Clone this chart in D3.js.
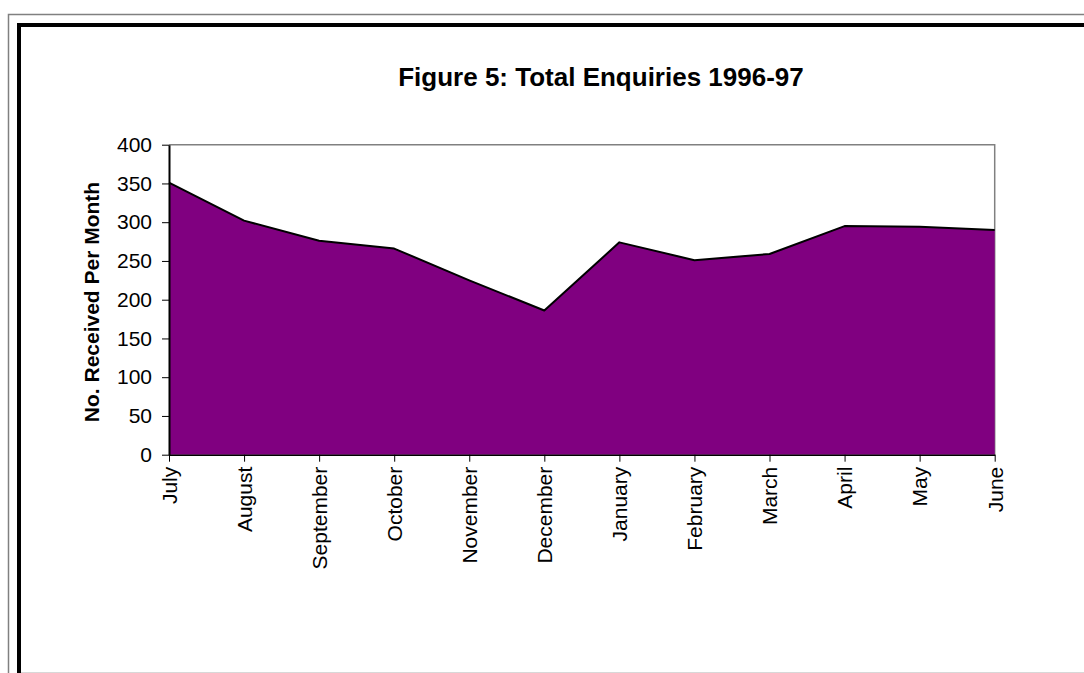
<!DOCTYPE html>
<html><head><meta charset="utf-8">
<script src="https://cdn.jsdelivr.net/npm/d3@7"></script>
<style>body{margin:0;background:#fff}svg{display:block}</style>
</head><body>
<svg id="c" width="1084" height="673"></svg>
<script>
const months = ["July","August","September","October","November","December","January","February","March","April","May","June"];
const enquiries = [351, 302, 276, 266, 225, 186, 274, 251, 259, 295, 294, 290];
const yTicks = [0,50,100,150,200,250,300,350,400];
const titleText = "Figure 5: Total Enquiries 1996-97";
const yLabel = "No. Received Per Month";

const svg = d3.select("#c");
const font = "'Liberation Sans', Arial, sans-serif";

// frame
svg.append("rect").attr("x",8.5).attr("y",14.5).attr("width",1200).attr("height",800)
  .attr("fill","none").attr("stroke","#808080").attr("stroke-width",1.5);
svg.append("rect").attr("x",19).attr("y",25).attr("width",1200).attr("height",800)
  .attr("fill","#fff").attr("stroke","#000").attr("stroke-width",4);
svg.append("line").attr("x1",21).attr("x2",1084).attr("y1",672.5).attr("y2",672.5)
  .attr("stroke","#d8d8d8").attr("stroke-width",1);

const L=169, R=994.7, T=144.7, B=454.7;
const x = d3.scalePoint().domain(months).range([L,R]);
const y = d3.scaleLinear().domain([0,400]).range([B,T]);

// plot border (top/right gray)
svg.append("path").attr("d",`M${L},${T}H${R}V${B}`).attr("fill","none")
  .attr("stroke","#808080").attr("stroke-width",1.5);

const area = d3.area().x((d,i)=>x(months[i])).y0(y(0)).y1(d=>y(d));
const line = d3.line().x((d,i)=>x(months[i])).y(d=>y(d));
svg.append("path").datum(enquiries).attr("d",area).attr("fill","#800080");
svg.append("path").datum(enquiries).attr("d",line).attr("fill","none")
  .attr("stroke","#000").attr("stroke-width",2).attr("stroke-linejoin","round");

// y axis
const ya = svg.append("g").attr("transform",`translate(${L},0)`)
  .call(d3.axisLeft(y).tickValues(yTicks).tickSize(7).tickPadding(10).tickSizeOuter(0));
ya.select(".domain").attr("stroke","#000").attr("stroke-width",2);
ya.selectAll(".tick line").attr("stroke","#000").attr("stroke-width",1);
ya.selectAll("text").attr("font-family",font).attr("font-size",21).attr("fill","#000");

// x axis
const xa = svg.append("g").attr("transform",`translate(0,${B})`)
  .call(d3.axisBottom(x).tickSize(7).tickSizeOuter(0));
xa.select(".domain").attr("stroke","#000").attr("stroke-width",1.5);
xa.selectAll(".tick line").attr("stroke","#000").attr("stroke-width",1);
xa.selectAll("text").attr("font-family",font).attr("font-size",21).attr("fill","#000")
  .attr("transform","rotate(-90)").attr("text-anchor","end")
  .attr("x",-12).attr("y",0).attr("dy","0.35em");

// title
svg.append("text").attr("x",601).attr("y",86).attr("text-anchor","middle")
  .attr("font-family",font).attr("font-weight","bold").attr("font-size",26).text(titleText);

// y label
svg.append("text").attr("transform","translate(99,302) rotate(-90)").attr("text-anchor","middle")
  .attr("font-family",font).attr("font-weight","bold").attr("font-size",21).text(yLabel);
</script>
</body></html>
